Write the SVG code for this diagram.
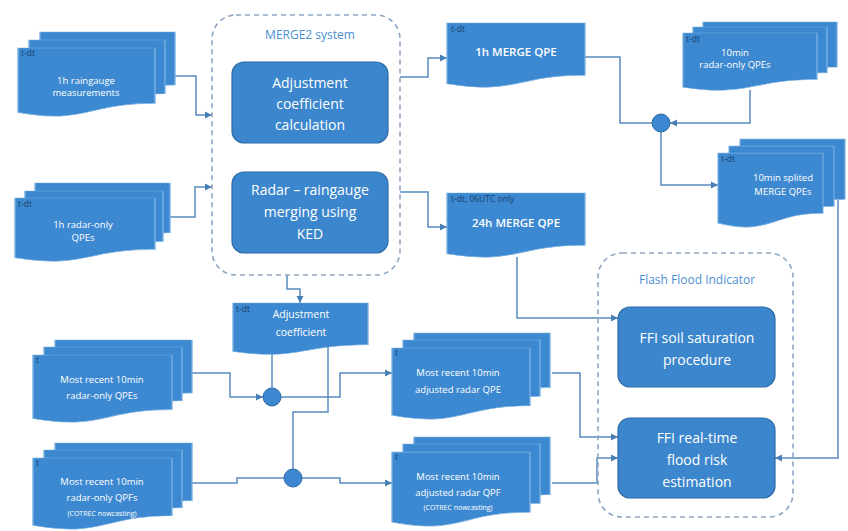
<svg xmlns="http://www.w3.org/2000/svg" xmlns:xlink="http://www.w3.org/1999/xlink" width="848" height="531" viewBox="0 0 848 531">
<defs>
<style>
.doc{fill:#3d89d1;stroke:#7ab0e0;stroke-width:1;vector-effect:non-scaling-stroke}
.box{fill:#3b86cc;stroke:#2d6aa5;stroke-width:1.2}
.cont{fill:none;stroke:#8ea6c2;stroke-width:1.6;stroke-dasharray:5 4}
.ctitle{font-family:"Open Sans","Liberation Sans",sans-serif;font-size:12px;fill:#4b8fd3;text-anchor:middle}
.bt{font-family:"Open Sans","Liberation Sans",sans-serif;font-size:14px;fill:#ffffff;text-anchor:middle}
.dt{font-family:"Open Sans","Liberation Sans",sans-serif;font-size:9.5px;fill:#ffffff;text-anchor:middle}
.dtb{font-family:"Open Sans","Liberation Sans",sans-serif;font-size:11.5px;font-weight:600;fill:#ffffff;text-anchor:middle}
.dts{font-family:"Open Sans","Liberation Sans",sans-serif;font-size:7px;fill:#ffffff;text-anchor:middle}
.lab{font-family:"Open Sans","Liberation Sans",sans-serif;font-size:8.5px;fill:#17406b}
.con{fill:none;stroke:#5a8cc0;stroke-width:1.5}
.arr{marker-end:url(#ah)}
.dot{fill:#3c87cf;stroke:#2d6aa5;stroke-width:1}
</style>
<path id="d" d="M0,0 H100 V80.2 C50,80.2 50,110.7 0,93.4 Z"/>
<marker id="ah" markerUnits="userSpaceOnUse" markerWidth="8" markerHeight="8" refX="7" refY="4" orient="auto">
<path d="M0,0.5 L7,4 L0,7.5 Z" fill="#4a7fb5"/>
</marker>
</defs>
<rect width="848" height="531" fill="#ffffff"/>

<g id="connectors">
<path class="con arr" d="M175,76 H196 V115 H212"/>
<path class="con arr" d="M170,217 H195 V187 H212"/>
<path class="con arr" d="M400,77 H428 V58 H447"/>
<path class="con arr" d="M400,192 H428 V227 H447"/>
<path class="con" d="M585,57 H620 V123 H652"/>
<path class="con arr" d="M750,90 V123 H670"/>
<path class="con arr" d="M661,132 V185 H718"/>
<path class="con arr" d="M838,200 V458 H775"/>
<path class="con arr" d="M517,257 V318 H618"/>
<path class="con arr" d="M287,275 V289 H300 V303"/>
<path class="con" d="M272,352 V388"/>
<path class="con" d="M328,347 V412 H293 V469"/>
<path class="con arr" d="M192,373 H230 V397 H263"/>
<path class="con arr" d="M281,397 H340 V373 H392"/>
<path class="con" d="M190,483 H237 V478 H284"/>
<path class="con arr" d="M302,478 H340 V483 H392"/>
<path class="con arr" d="M552,373 H580 V437 H618"/>
<path class="con arr" d="M552,483 H597 V458 H618"/>
</g>

<g id="merge2">
<rect class="cont" x="212" y="15" width="188" height="260" rx="24"/>
<text class="ctitle" x="310" y="39">MERGE2 system</text>
</g>
<g id="adjcalc">
<rect class="box" x="232" y="62" width="156" height="81" rx="12"/>
<text class="bt" x="310" y="88">Adjustment</text>
<text class="bt" x="310" y="109">coefficient</text>
<text class="bt" x="310" y="130">calculation</text>
</g>
<g id="ked">
<rect class="box" x="232" y="172" width="156" height="81" rx="12"/>
<text class="bt" x="310" y="195">Radar – raingauge</text>
<text class="bt" x="310" y="217">merging using</text>
<text class="bt" x="310" y="239">KED</text>
</g>

<g id="ffi">
<rect class="cont" x="598" y="253" width="195" height="264" rx="24"/>
<text class="ctitle" x="697" y="284">Flash Flood Indicator</text>
</g>
<g id="ffisoil">
<rect class="box" x="618" y="307" width="157" height="80" rx="12"/>
<text class="bt" x="697" y="343">FFI soil saturation</text>
<text class="bt" x="697" y="365">procedure</text>
</g>
<g id="ffirt">
<rect class="box" x="618" y="418" width="157" height="80" rx="12"/>
<text class="bt" x="697" y="443">FFI real-time</text>
<text class="bt" x="697" y="465">flood risk</text>
<text class="bt" x="697" y="487">estimation</text>
</g>

<g id="raingauge">
<use href="#d" class="doc" transform="translate(40,32) scale(1.35,0.66)"/>
<use href="#d" class="doc" transform="translate(29,40) scale(1.36,0.67)"/>
<use href="#d" class="doc" transform="translate(18,48) scale(1.37,0.69)"/>
<text class="lab" x="21" y="56">t-dt</text>
<text class="dt" x="86" y="84">1h raingauge</text>
<text class="dt" x="86" y="96">measurements</text>
</g>

<g id="radar1h">
<use href="#d" class="doc" transform="translate(35,183) scale(1.35,0.62)"/>
<use href="#d" class="doc" transform="translate(25,191) scale(1.38,0.63)"/>
<use href="#d" class="doc" transform="translate(15,198) scale(1.40,0.64)"/>
<text class="lab" x="18" y="207">t-dt</text>
<text class="dt" x="83" y="228">1h radar-only</text>
<text class="dt" x="83" y="241">QPEs</text>
</g>

<g id="merge1h">
<use href="#d" class="doc" transform="translate(447,23) scale(1.38,0.65)"/>
<text class="lab" x="451" y="32">t-dt</text>
<text class="dtb" x="516" y="56">1h MERGE QPE</text>
</g>

<g id="radar10">
<use href="#d" class="doc" transform="translate(703,22) scale(1.34,0.56)"/>
<use href="#d" class="doc" transform="translate(693,27) scale(1.34,0.57)"/>
<use href="#d" class="doc" transform="translate(683,33) scale(1.34,0.58)"/>
<text class="lab" x="686" y="42">t-dt</text>
<text class="dt" x="735" y="56">10min</text>
<text class="dt" x="735" y="68">radar-only QPEs</text>
</g>

<g id="split10">
<use href="#d" class="doc" transform="translate(740,139) scale(1.05,0.75)"/>
<use href="#d" class="doc" transform="translate(729,146) scale(1.05,0.75)"/>
<use href="#d" class="doc" transform="translate(718,153) scale(1.05,0.75)"/>
<text class="lab" x="721" y="162">t-dt</text>
<text class="dt" x="783" y="181">10min splited</text>
<text class="dt" x="783" y="195">MERGE QPEs</text>
</g>

<g id="merge24h">
<use href="#d" class="doc" transform="translate(447,193) scale(1.38,0.65)"/>
<text class="lab" x="451" y="202">t-dt, 06UTC only</text>
<text class="dtb" x="516" y="227">24h MERGE QPE</text>
</g>

<g id="adjcoef">
<use href="#d" class="doc" transform="translate(233,303) scale(1.35,0.52)"/>
<text class="lab" x="236" y="312">t-dt</text>
<text class="dt" x="301" y="318" style="font-size:10.5px">Adjustment</text>
<text class="dt" x="301" y="336" style="font-size:10.5px">coefficient</text>
</g>

<g id="recentqpe">
<use href="#d" class="doc" transform="translate(55,340) scale(1.37,0.66)"/>
<use href="#d" class="doc" transform="translate(44,347) scale(1.38,0.67)"/>
<use href="#d" class="doc" transform="translate(33,355) scale(1.39,0.68)"/>
<text class="lab" x="36" y="363">t</text>
<text class="dt" x="102" y="383">Most recent 10min</text>
<text class="dt" x="102" y="399">radar-only QPEs</text>
</g>

<g id="recentqpf">
<use href="#d" class="doc" transform="translate(55,443) scale(1.37,0.72)"/>
<use href="#d" class="doc" transform="translate(44,450) scale(1.38,0.72)"/>
<use href="#d" class="doc" transform="translate(33,458) scale(1.39,0.72)"/>
<text class="lab" x="36" y="466">t</text>
<text class="dt" x="102" y="485">Most recent 10min</text>
<text class="dt" x="102" y="501">radar-only QPFs</text>
<text class="dts" x="102" y="516">(COTREC nowcasting)</text>
</g>

<g id="dot1"><circle class="dot" cx="661" cy="123" r="9"/></g>
<g id="dot2"><circle class="dot" cx="272" cy="397" r="9"/></g>
<g id="dot3"><circle class="dot" cx="293" cy="478" r="9"/></g>

<g id="adjqpe">
<use href="#d" class="doc" transform="translate(414,333) scale(1.36,0.68)"/>
<use href="#d" class="doc" transform="translate(403,340) scale(1.37,0.70)"/>
<use href="#d" class="doc" transform="translate(392,348) scale(1.38,0.72)"/>
<text class="lab" x="395" y="356">t</text>
<text class="dt" x="458" y="376">Most recent 10min</text>
<text class="dt" x="458" y="393">adjusted radar QPE</text>
</g>

<g id="adjqpf">
<use href="#d" class="doc" transform="translate(414,437) scale(1.36,0.72)"/>
<use href="#d" class="doc" transform="translate(403,444) scale(1.37,0.74)"/>
<use href="#d" class="doc" transform="translate(392,452) scale(1.38,0.75)"/>
<text class="lab" x="395" y="460">t</text>
<text class="dt" x="458" y="480">Most recent 10min</text>
<text class="dt" x="458" y="496">adjusted radar QPF</text>
<text class="dts" x="458" y="510">(COTREC nowcasting)</text>
</g>
</svg>
